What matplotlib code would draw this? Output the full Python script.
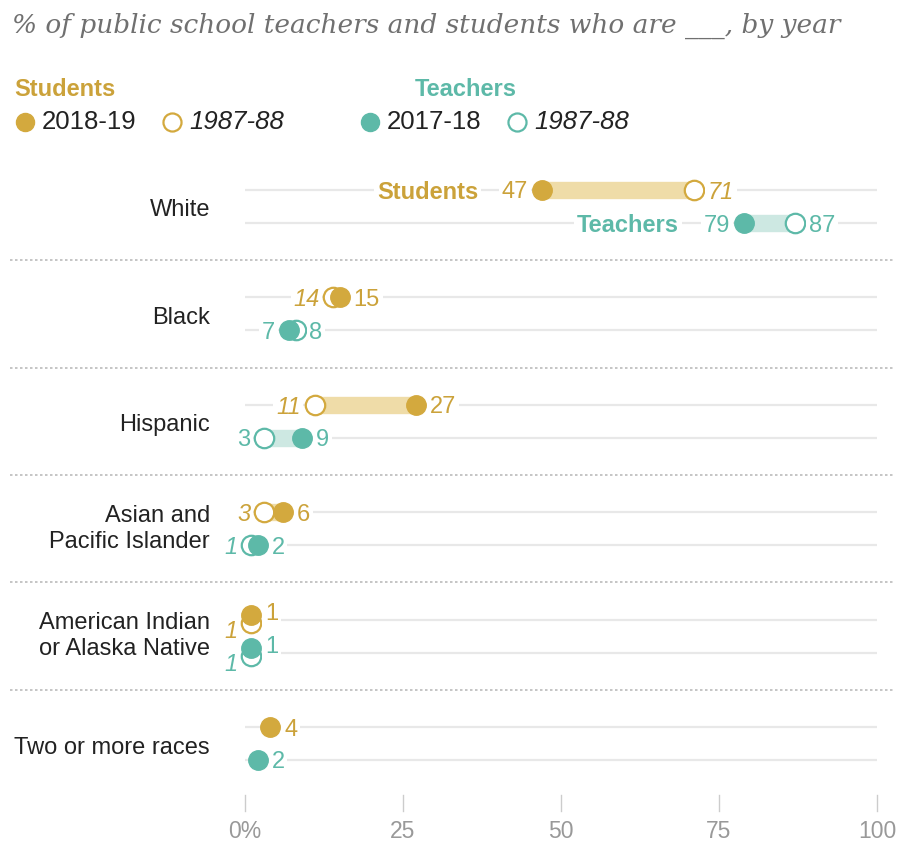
import matplotlib
matplotlib.use("Agg")
import matplotlib.pyplot as plt

# data (None = no 1987-88 value)
groups = ["White", "Black", "Hispanic", "Asian and\nPacific Islander",
          "American Indian\nor Alaska Native", "Two or more races"]
students_new = [47, 15, 27, 6, 1, 4]      # 2018-19
students_old = [71, 14, 11, 3, 1, None]   # 1987-88
teachers_new = [79, 7, 9, 2, 1, 2]        # 2017-18
teachers_old = [87, 8, 3, 1, 1, None]     # 1987-88
ticks = [0, 25, 50, 75, 100]
tick_labels = ["0%", "25", "50", "75", "100"]

# the source sets some 1987-88 teacher labels upright, some italic
students_old_italic = [True, True, True, True, True, True]
teachers_old_italic = [False, False, False, True, True, True]

GOLD = "#D3A93E"
GOLD_TXT = "#CBA23A"
GOLD_LIGHT = "#EFDCA8"
TEAL = "#5DB9A8"
TEAL_TXT = "#5DB9A8"
TEAL_LIGHT = "#CDE8E2"
GRID = "#E8E8E8"

plt.rcParams['font.family'] = ['Liberation Sans', 'DejaVu Sans']

W, H = 902, 846
fig = plt.figure(figsize=(W / 100, H / 100), dpi=100)
ax = fig.add_axes([0, 0, 1, 1])
# x: data units, 0 -> 245 px, 100 -> 877 px ; y: pixels from top
PX = 6.32
ax.set_xlim(-245 / PX, (W - 245) / PX)
ax.set_ylim(H, 0)
ax.axis("off")

row0, step, gap = 190, 107.4, 33
ms = 14
bar_lw = 12.5
FS = 17


def label(x, y, s, color, side, italic=False, dx=10):
    ax.annotate(s, (x, y), xytext=(dx if side == "r" else -dx, 0),
                textcoords="offset points", ha="left" if side == "r" else "right",
                va="center_baseline", fontsize=FS, color=color,
                fontstyle="italic" if italic else "normal",
                bbox=dict(boxstyle="square,pad=0.12", fc="white", ec="none"),
                zorder=6)


def draw_row(y, new, old, col, light, txt, old_it, name=None, name_dx=None):
    ax.plot([0, 100], [y, y], color=GRID, lw=1.6, zorder=1, solid_capstyle="butt")
    if old is None:
        ax.plot(new, y, "o", ms=ms, color=col, zorder=5)
        label(new, y, str(new), txt, "r")
        return
    if old == new:
        # identical values: stack the two circles slightly
        ax.plot(old, y + 3, "o", ms=ms, mfc="white", mec=col, mew=1.6, zorder=4)
        ax.plot(new, y - 5, "o", ms=ms, color=col, zorder=5)
        label(new, y - 8, str(new), txt, "r")
        label(old, y + 9, str(old), txt, "l", italic=old_it)
        return
    ax.plot([new, old], [y, y], color=light, lw=bar_lw, zorder=2, solid_capstyle="butt")
    ax.plot(old, y, "o", ms=ms, mfc="white", mec=col, mew=1.6, zorder=4)
    ax.plot(new, y, "o", ms=ms, color=col, zorder=5)
    if new < old:
        label(new, y, str(new), txt, "l")
        label(old, y, str(old), txt, "r", italic=old_it)
    else:
        label(old, y, str(old), txt, "l", italic=old_it)
        label(new, y, str(new), txt, "r")
    if name:
        ax.annotate(name, (new, y), xytext=(-name_dx, 0), textcoords="offset points",
                    ha="right", va="center_baseline", fontsize=FS, color=txt,
                    fontweight="bold",
                    bbox=dict(boxstyle="square,pad=0.12", fc="white", ec="none"),
                    zorder=6)


for i, g in enumerate(groups):
    ys = row0 + i * step
    yt = ys + gap
    draw_row(ys, students_new[i], students_old[i], GOLD, GOLD_LIGHT, GOLD_TXT,
             students_old_italic[i], "Students" if i == 0 else None, 46)
    draw_row(yt, teachers_new[i], teachers_old[i], TEAL, TEAL_LIGHT, TEAL_TXT,
             teachers_old_italic[i], "Teachers" if i == 0 else None, 47)
    ymid = (ys + yt) / 2 + (0 if "\n" in g else 4)
    ax.text(210 / PX - 245 / PX, ymid, g, ha="right", va="center",
            fontsize=FS, color="#222222", linespacing=1.25)
    if i < len(groups) - 1:
        sep = (yt + row0 + (i + 1) * step) / 2
        ax.plot([ax.get_xlim()[0] + 10 / PX, ax.get_xlim()[1] - 8 / PX], [sep, sep],
                color="#BBBBBB", lw=1.2, ls=(0, (1.5, 1.5)), zorder=1)

# axis ticks
for t, tl in zip(ticks, tick_labels):
    ax.plot([t, t], [795, 811], color="#CCCCCC", lw=1)
    ax.text(t, 831, tl, ha="center", va="center", fontsize=16.5, color="#999999")

# title
fig.text(12 / W, 1 - 26 / H, "% of public school teachers and students who are ___, by year",
         ha="left", va="center", fontsize=19, color="#707070", fontstyle="italic",
         family=["DejaVu Serif"])

# legend
fig.text(14 / W, 1 - 90 / H, "Students", ha="left", va="center", fontsize=FS,
         fontweight="bold", color=GOLD_TXT)
fig.text(415 / W, 1 - 90 / H, "Teachers", ha="left", va="center", fontsize=FS,
         fontweight="bold", color=TEAL_TXT)
leg = [(25, GOLD, True, "2018-19"), (172, GOLD, False, "1987-88"),
       (370, TEAL, True, "2017-18"), (517, TEAL, False, "1987-88")]
for px, col, filled, s in leg:
    xd = (px - 245) / PX
    if filled:
        ax.plot(xd, 122, "o", ms=13, color=col, clip_on=False)
    else:
        ax.plot(xd, 122, "o", ms=13, mfc="white", mec=col, mew=1.6, clip_on=False)
    ax.text(xd + 17 / PX, 122, s, ha="left", va="center", fontsize=18.5, color="#222222",
            fontstyle="normal" if filled else "italic")

fig.savefig("out.png", dpi=100)
